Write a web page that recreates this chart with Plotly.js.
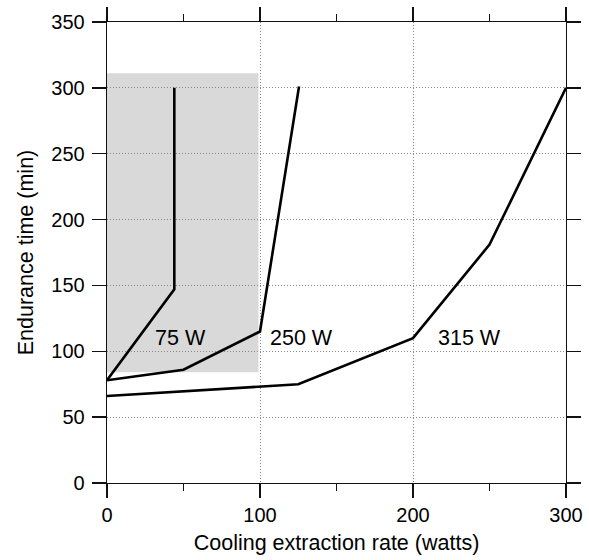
<!DOCTYPE html>
<html>
<head>
<meta charset="utf-8">
<script src="https://cdn.plot.ly/plotly-3.0.1.min.js"></script>
<style>html,body{margin:0;padding:0;background:#fff}#chart{width:589px;height:560px}</style>
</head>
<body>
<div id="chart"></div>
<script>
// Data
const x75 = [0, 44, 44];
const y75 = [78, 147, 300];
const x250 = [0, 50, 100, 125.5];
const y250 = [78, 86, 115, 301];
const x315 = [0, 125, 200, 250, 300];
const y315 = [66, 75, 110, 181, 300];
const seriesLabels = ["75 W", "250 W", "315 W"];
const labelX = [48, 127, 237];
const labelY = [110, 110, 110];
const shadeX = [0, 99];
const shadeY = [84, 311];
const xTicks = [0, 100, 200, 300];
const yTicks = [0, 50, 100, 150, 200, 250, 300, 350];

const lineStyle = {color: '#000', width: 2.6};
const traces = [
  {x: x75, y: y75, mode: 'lines', line: lineStyle, hoverinfo: 'skip'},
  {x: x250, y: y250, mode: 'lines', line: lineStyle, hoverinfo: 'skip'},
  {x: x315, y: y315, mode: 'lines', line: lineStyle, hoverinfo: 'skip'}
];

const fam = 'Liberation Sans, Arial, Helvetica, sans-serif';
const font = {family: fam, size: 20, color: '#000'};
const titleFont = {family: fam, size: 21.5, color: '#000'};

const axisCommon = {
  showline: true, linecolor: '#111', linewidth: 1.3, mirror: 'ticks',
  ticks: 'outside', ticklen: 14, tickwidth: 1.3, tickcolor: '#111',
  showgrid: true, gridcolor: '#8a8a8a', griddash: '1px,2px', gridwidth: 1,
  zeroline: false, tickfont: font
};

const layout = {
  width: 589, height: 560,
  margin: {l: 107, r: 23, t: 22, b: 77},
  paper_bgcolor: '#fff', plot_bgcolor: '#fff',
  showlegend: false,
  font: font,
  xaxis: Object.assign({}, axisCommon, {
    range: [0, 300], tickvals: xTicks, ticktext: xTicks.map(String),
    minor: {tickvals: [50, 150, 250], ticks: 'outside', ticklen: 7, tickwidth: 1.3, tickcolor: '#111', showgrid: false},
    title: {text: 'Cooling extraction rate (watts)', font: titleFont, standoff: 9}
  }),
  yaxis: Object.assign({}, axisCommon, {
    range: [0, 350], tickvals: yTicks, ticktext: yTicks.map(String),
    ticklabelstandoff: 3,
    title: {text: 'Endurance time (min)', font: titleFont, standoff: 11}
  }),
  shapes: [{
    type: 'rect', xref: 'x', yref: 'y', layer: 'below',
    x0: shadeX[0], x1: shadeX[1], y0: shadeY[0], y1: shadeY[1],
    fillcolor: '#d9d9d9', line: {width: 0}
  }],
  annotations: seriesLabels.map((t, i) => ({
    x: labelX[i], y: labelY[i], xref: 'x', yref: 'y', text: t,
    showarrow: false, font: {family: fam, size: 21.5, color: '#000'}
  }))
};

Plotly.newPlot('chart', traces, layout, {staticPlot: true, displayModeBar: false});
</script>
</body>
</html>
